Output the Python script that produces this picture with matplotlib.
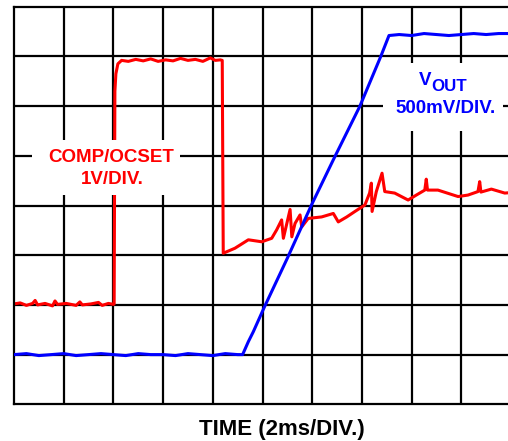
import matplotlib

matplotlib.use("Agg")
import matplotlib.pyplot as plt
from matplotlib.patches import Rectangle

plt.rcParams["font.family"] = ["Liberation Sans", "DejaVu Sans"]

# scope settings: 10 x 8 divisions, 2 ms/div
MS_PER_DIV = 2.0
COMP_V_PER_DIV = 1.0
VOUT_V_PER_DIV = 0.5

# COMP/OCSET trace (time in ms, level in V above bottom of screen)
comp_t = [0.00, 0.25, 0.50, 0.75, 0.85, 0.95, 1.25, 1.55, 1.65, 1.75, 2.10, 2.50,
          2.65, 2.75, 3.10, 3.40, 3.55, 3.80, 4.00, 4.03, 4.06, 4.10, 4.18, 4.33,
          4.60, 4.90, 5.20, 5.50, 5.80, 6.10, 6.40, 6.70, 7.00, 7.30, 7.60, 7.90,
          8.10, 8.30, 8.38, 8.42, 8.89, 9.43, 9.97, 10.37, 10.57, 10.77, 10.84,
          11.11, 11.18, 11.31, 11.51, 11.58, 11.84, 12.38, 12.85, 13.05, 13.39,
          13.72, 14.12, 14.31, 14.38, 14.41, 14.58, 14.81, 14.92, 15.32, 15.86,
          16.19, 16.53, 16.59, 16.64, 17.06, 17.87, 18.27, 18.67, 18.74, 18.79,
          19.21, 19.75, 20.00]
comp_v = [2.02, 2.04, 1.99, 2.03, 2.09, 2.00, 2.03, 1.98, 2.08, 2.01, 2.03, 1.99,
          2.06, 2.00, 2.02, 2.05, 1.99, 2.03, 2.01, 2.02, 6.30, 6.65, 6.85, 6.92,
          6.90, 6.94, 6.91, 6.95, 6.90, 6.93, 6.91, 6.96, 6.92, 6.94, 6.90, 6.97,
          6.92, 6.93, 6.92, 3.04, 3.14, 3.31, 3.27, 3.34, 3.51, 3.71, 3.34,
          3.92, 3.37, 3.64, 3.81, 3.57, 3.74, 3.77, 3.84, 3.67, 3.77,
          3.88, 4.01, 4.25, 4.45, 3.88, 4.28, 4.65, 4.28, 4.25, 4.11,
          4.21, 4.31, 4.53, 4.31, 4.31, 4.18, 4.21, 4.28, 4.48, 4.27,
          4.33, 4.25, 4.26]

# VOUT trace (time in ms, V)
vout_t = [0.0, 0.5, 1.0, 1.5, 2.0, 2.5, 3.0, 3.5, 4.0, 4.5, 5.0, 5.5, 6.0, 6.5,
          7.0, 7.5, 8.0, 8.5, 9.0, 9.20, 9.43, 9.63, 10.06, 11.00, 11.98, 12.85,
          13.92, 14.76, 15.09, 15.5, 16.0, 16.5, 17.0, 17.5, 18.0, 18.5, 19.0,
          19.5, 20.0]
vout_v = [0.50, 0.51, 0.49, 0.50, 0.51, 0.49, 0.50, 0.51, 0.50, 0.49, 0.51, 0.50,
          0.50, 0.49, 0.51, 0.50, 0.49, 0.51, 0.50, 0.50, 0.63, 0.73, 0.97, 1.47,
          2.01, 2.46, 3.00, 3.50, 3.71, 3.72, 3.71, 3.73, 3.72, 3.71, 3.72, 3.73,
          3.72, 3.73, 3.73]

RED = "#ff0000"
BLUE = "#0000ff"

fig = plt.figure(figsize=(5.08, 4.41), dpi=100)
# grid runs a little past the right edge of the picture
ax = fig.add_axes([14 / 508, 36.7 / 441, 497 / 508, 397.6 / 441])
ax.set_xlim(0, 10 * MS_PER_DIV)
ax.set_ylim(0, 8)
ax.set_xticks([])
ax.set_yticks([])
for s in ax.spines.values():
    s.set_linewidth(1.6)

for i in range(1, 10):
    ax.axvline(i * MS_PER_DIV, color="black", linewidth=1.6, zorder=1)
for j in range(1, 8):
    ax.axhline(j, color="black", linewidth=1.6, zorder=1)

ax.plot(comp_t, [v / COMP_V_PER_DIV for v in comp_v], color=RED, linewidth=2.2, zorder=2)
ax.plot(vout_t, [v / VOUT_V_PER_DIV for v in vout_v], color=BLUE, linewidth=2.2, zorder=3)

# white label boxes that blank the grid
ax.add_patch(Rectangle((0.71, 4.21), 5.97, 1.11, facecolor="white", edgecolor="none", zorder=4))
ax.add_patch(Rectangle((14.85, 5.50), 4.83, 1.37, facecolor="white", edgecolor="none", zorder=4))

lab = dict(fontsize=13.5, fontweight="bold", zorder=5)
ax.text(3.90, 4.88, "COMP/OCSET", color=RED, ha="center", va="baseline", **lab)
ax.text(3.95, 4.43, "1V/DIV.", color=RED, ha="center", va="baseline", **lab)
ax.text(16.28, 6.42, "V", color=BLUE, ha="left", va="baseline", **lab)
ax.text(16.80, 6.31, "OUT", color=BLUE, ha="left", va="baseline",
        fontsize=12.2, fontweight="bold", zorder=5)
ax.text(17.36, 5.855, "500mV/DIV.", color=BLUE, ha="center", va="baseline", **lab)

fig.text(281.5 / 508, 6 / 441, "TIME (2ms/DIV.)", ha="center", va="baseline",
         fontsize=16, fontweight="bold")

fig.savefig("out.png", dpi=100)
plt.close(fig)
